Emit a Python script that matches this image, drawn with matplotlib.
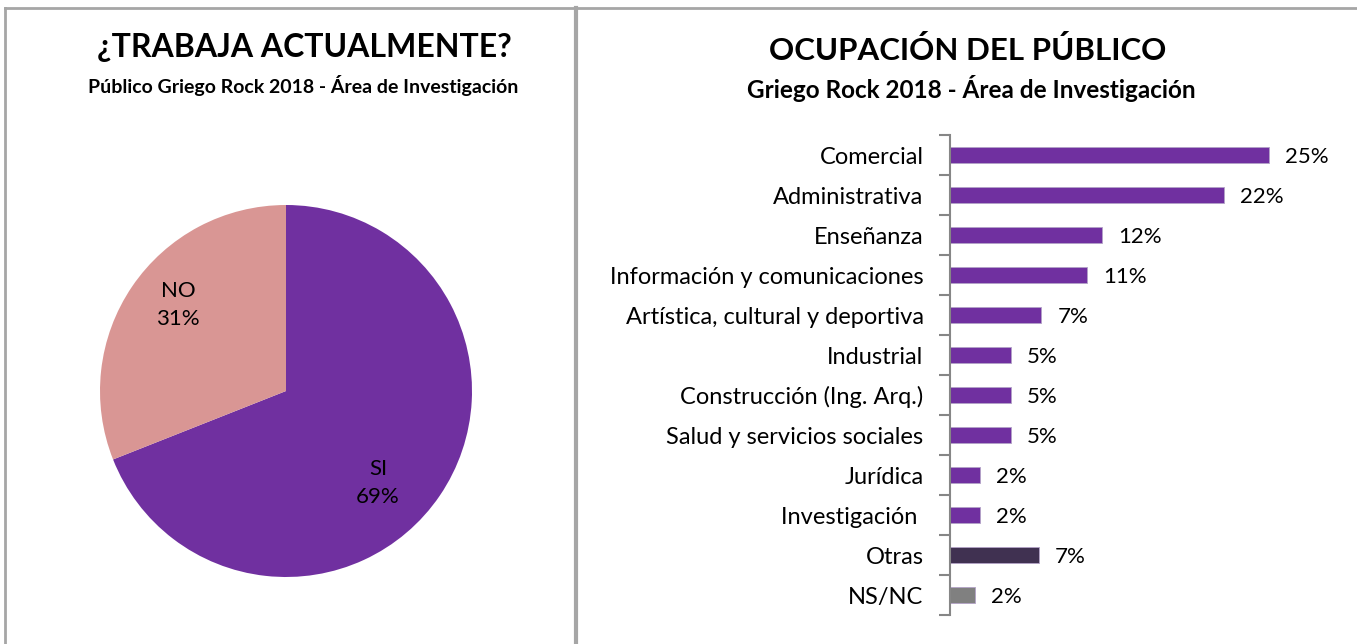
import matplotlib.pyplot as plt
from matplotlib.lines import Line2D

# pie data
pie_labels = ["SI", "NO"]
pie_values = [69, 31]
pie_colors = ["#7030A0", "#D99694"]

# bar data (top to bottom)
categorias = ["Comercial", "Administrativa", "Enseñanza", "Información y comunicaciones",
              "Artística, cultural y deportiva", "Industrial", "Construcción (Ing. Arq.)",
              "Salud y servicios sociales", "Jurídica", "Investigación ", "Otras", "NS/NC"]
valores = [25.1, 21.6, 12.0, 10.8, 7.2, 4.8, 4.8, 4.8, 2.4, 2.4, 7.0, 2.0]
colores = ["#7030A0"] * 10 + ["#403151", "#808080"]

plt.rcParams['font.family'] = ['Lato', 'DejaVu Sans']
W, H = 1357, 644
fig = plt.figure(figsize=(W / 100, H / 100), dpi=100)

def fx(x):
    return x / W

def fy(y):
    return 1 - y / H

# panel borders
for xs, ys, lw in [([5, 5], [8, H], 2), ([576, 576], [8, H], 3), ([5, W], [8, 8], 2)]:
    fig.add_artist(Line2D([fx(v) for v in xs], [fy(v) for v in ys], color="#A6A6A6", lw=lw))

# left panel: pie
fig.text(fx(304), fy(47), "¿TRABAJA ACTUALMENTE?", ha="center", va="center",
         fontsize=23, fontweight="bold")
fig.text(fx(303), fy(85), "Público Griego Rock 2018 - Área de Investigación", ha="center",
         va="center", fontsize=14, fontweight="bold")

r = 186
ax1 = fig.add_axes([fx(286 - r), fy(391 + r), 2 * r / W, 2 * r / H])
wedges, _ = ax1.pie(pie_values, colors=pie_colors, startangle=90, counterclock=False,
                    wedgeprops=dict(linewidth=0))
ax1.set_xlim(-1, 1)
ax1.set_ylim(-1, 1)
ax1.text(0.495, -0.495, "%s\n%d%%" % (pie_labels[0], pie_values[0]), ha="center", va="center",
         fontsize=16, linespacing=1.5)
ax1.text(-0.58, 0.46, "%s\n%d%%" % (pie_labels[1], pie_values[1]), ha="center", va="center",
         fontsize=16, linespacing=1.5)

# right panel: bars
fig.text(fx(968), fy(50), "OCUPACIÓN DEL PÚBLICO", ha="center", va="center",
         fontsize=22.5, fontweight="bold")
fig.text(fx(971), fy(88), "Griego Rock 2018 - Área de Investigación", ha="center",
         va="center", fontsize=17.5, fontweight="bold")

ax2 = fig.add_axes([fx(950), fy(615), 381 / W, 480 / H])
pos = list(range(len(categorias)))
ax2.barh(pos, valores, height=0.4, color=colores, edgecolor="#B3A2C7", linewidth=0.6)
ax2.set_ylim(len(categorias) - 0.5, -0.5)
ax2.set_xlim(0, 30)
for p, v in zip(pos, valores):
    ax2.text(v + 1.25, p + 0.06, "%d%%" % round(v), va="center", ha="left", fontsize=16)
ax2.set_yticks(pos)
ax2.set_yticklabels(categorias, fontsize=17)
ax2.set_yticks([p - 0.5 for p in pos] + [len(pos) - 0.5], minor=True)
ax2.tick_params(axis="y", which="major", length=0, pad=19)
ax2.tick_params(axis="y", which="minor", length=8, color="#868686", width=1.5)
ax2.set_xticks([])
for s in ["top", "right", "bottom"]:
    ax2.spines[s].set_visible(False)
ax2.spines["left"].set_color("#868686")
ax2.spines["left"].set_linewidth(1.5)

fig.savefig("out.png", dpi=100)
